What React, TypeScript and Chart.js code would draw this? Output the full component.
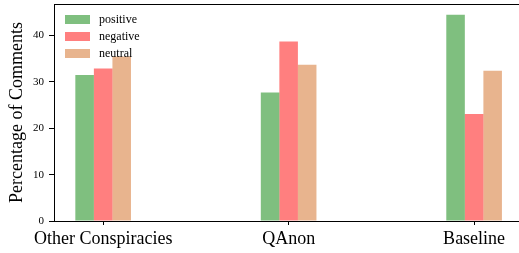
import React, { useEffect, useRef } from 'react';
import { Chart, registerables } from 'chart.js';

Chart.register(...registerables);

const CATEGORIES = ['Other Conspiracies', 'QAnon', 'Baseline'];
const SERIES = ['positive', 'negative', 'neutral'];
const POSITIVE = [31.5, 27.7, 44.5];
const NEGATIVE = [32.9, 38.7, 23.1];
const NEUTRAL = [35.5, 33.7, 32.4];
const Y_TICKS = [0, 10, 20, 30, 40];
const COLORS = ['rgba(0,128,0,0.5)', 'rgba(255,0,0,0.5)', 'rgba(210,105,30,0.5)'];

const X_MIN = -0.265;
const X_MAX = 2.242;
const Y_MAX = 46.8;

const SERIF = "'Liberation Serif', 'Times New Roman', serif";

const innerLegend = {
  id: 'innerLegend',
  afterDatasetsDraw(chart: any) {
    const { ctx, chartArea } = chart;
    ctx.save();
    chart.data.datasets.forEach((ds: any, i: number) => {
      const x = chartArea.left + 11;
      const y = chartArea.top + 11 + i * 17;
      ctx.fillStyle = ds.backgroundColor;
      ctx.fillRect(x, y, 25, 9);
      ctx.fillStyle = '#000';
      ctx.font = `12px ${SERIF}`;
      ctx.textBaseline = 'middle';
      ctx.textAlign = 'left';
      ctx.fillText(ds.label, x + 34, y + 4.5);
    });
    ctx.restore();
  },
};

const topSpine = {
  id: 'topSpine',
  afterDraw(chart: any) {
    const { ctx, chartArea } = chart;
    ctx.save();
    ctx.strokeStyle = '#000';
    ctx.lineWidth = 1;
    ctx.beginPath();
    const y = Math.round(chartArea.top) + 0.5;
    ctx.moveTo(chartArea.left, y);
    ctx.lineTo(chartArea.right, y);
    ctx.stroke();
    ctx.restore();
  },
};

export default function App() {
  const ref = useRef<HTMLCanvasElement | null>(null);

  useEffect(() => {
    if (!ref.current) return;
    const values = [POSITIVE, NEGATIVE, NEUTRAL];
    const chart = new Chart(ref.current, {
      type: 'bar',
      data: {
        datasets: SERIES.map((name, i) => ({
          label: name,
          data: CATEGORIES.map((_, j) => ({ x: j, y: values[i][j] })),
          backgroundColor: COLORS[i],
          borderWidth: 0,
          categoryPercentage: 0.3,
          barPercentage: 1,
        })),
      },
      options: {
        animation: false,
        responsive: true,
        maintainAspectRatio: false,
        layout: { padding: { top: 4, left: 0, right: 0, bottom: 0 } },
        plugins: {
          legend: { display: false },
          tooltip: { enabled: false },
        },
        scales: {
          x: {
            type: 'linear',
            min: X_MIN,
            max: X_MAX,
            offset: false,
            afterBuildTicks(scale: any) {
              scale.ticks = CATEGORIES.map((_, j) => ({ value: j }));
            },
            afterFit(scale: any) {
              scale.height = 32;
              scale.paddingLeft = 0;
              scale.paddingRight = 0;
            },
            ticks: {
              autoSkip: false,
              maxRotation: 0,
              minRotation: 0,
              color: '#000',
              padding: 3,
              font: { family: SERIF, size: 18 },
              callback: (v: any) => CATEGORIES[Math.round(Number(v))] ?? '',
            },
            grid: {
              display: true,
              offset: false,
              drawOnChartArea: false,
              drawTicks: true,
              tickLength: 4,
              color: '#000',
            },
            border: { display: true, color: '#000', width: 1 },
          },
          y: {
            type: 'linear',
            min: 0,
            max: Y_MAX,
            afterBuildTicks(scale: any) {
              scale.ticks = Y_TICKS.map((v) => ({ value: v }));
            },
            afterFit(scale: any) {
              scale.width = 54;
              scale.paddingTop = 0;
              scale.paddingBottom = 0;
            },
            ticks: {
              color: '#000',
              padding: 5,
              font: { family: SERIF, size: 11 },
            },
            grid: {
              display: true,
              drawOnChartArea: false,
              drawTicks: true,
              tickLength: 5,
              color: '#000',
            },
            border: { display: true, color: '#000', width: 1 },
            title: {
              display: true,
              text: 'Percentage of Comments',
              color: '#000',
              font: { family: SERIF, size: 18 },
              padding: { top: 6, bottom: 0 },
            },
          },
        },
      },
      plugins: [innerLegend, topSpine],
    } as any);
    return () => chart.destroy();
  }, []);

  return (
    <div style={{ position: 'absolute', left: 0, top: 0, width: 519, height: 253 }}>
      <canvas ref={ref} />
    </div>
  );
}
